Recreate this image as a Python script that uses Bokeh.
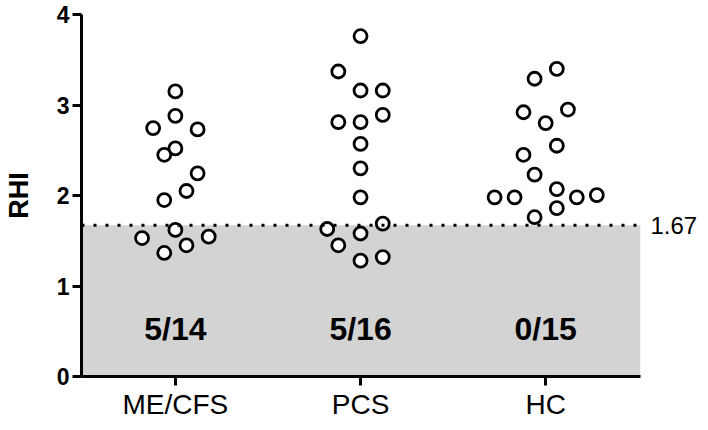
from bokeh.plotting import figure
from bokeh.models import Range1d, FixedTicker, BoxAnnotation, Span, LinearAxis, ColumnDataSource
from bokeh.core.properties import value
from bokeh.embed import file_html
from bokeh.resources import INLINE

# ---- data ----
groups = ["ME/CFS", "PCS", "HC"]
counts = ["5/14", "5/16", "0/15"]
threshold = 1.67

mecfs_vals = [3.15, 2.88, 2.745, 2.73, 2.52, 2.45, 2.245, 2.05, 1.95, 1.62, 1.53, 1.545, 1.45, 1.365]
mecfs_slot = [0, 0, -2, 2, 0, -1, 2, 1, -1, 0, -3, 3, 1, -1]

pcs_vals = [3.76, 3.37, 3.16, 3.16, 2.81, 2.81, 2.89, 2.57, 2.30, 1.98, 1.69, 1.63, 1.58, 1.45, 1.28, 1.32]
pcs_slot = [0, -2, 0, 2, -2, 0, 2, 0, 0, 0, 2, -3, 0, -2, 0, 2]

hc_vals = [3.40, 3.29, 2.92, 2.95, 2.80, 2.55, 2.45, 2.23, 2.07, 1.98, 1.98, 1.98, 2.005, 1.86, 1.76]
hc_slot = [1, -1, -2, 2, 0, 1, -2, -1, 1, -4.6, -2.8, 2.8, 4.6, 1, -1]

y_ticks = [0, 1, 2, 3, 4]

FONT = "Liberation Sans"
SLOT = 0.06  # horizontal spacing of scatter columns, in category units

p = figure(width=700, height=422, output_backend="svg", toolbar_location=None,
           x_range=Range1d(-0.507, 2.512), y_range=Range1d(0, 4),
           min_border_left=80, min_border_right=60, min_border_top=14, min_border_bottom=40)
p.outline_line_color = None
p.grid.visible = False
p.background_fill_color = "white"

shade = BoxAnnotation(bottom=0, top=threshold, fill_color="#d3d3d3", fill_alpha=1.0,
                      line_color=None, level="underlay")
p.add_layout(shade)
p.add_layout(Span(location=threshold, dimension="width", line_color="black",
                  line_width=3, line_dash="3 9"))

xs, ys = [], []
for gi, (vals, slots) in enumerate([(mecfs_vals, mecfs_slot), (pcs_vals, pcs_slot), (hc_vals, hc_slot)]):
    for v, s in zip(vals, slots):
        xs.append(gi + s * SLOT)
        ys.append(v)
src = ColumnDataSource(dict(x=xs, y=ys))
p.scatter("x", "y", source=src, marker="circle", size=13, fill_color="white",
          line_color="black", line_width=2.8)

p.text(x=[0, 1, 2], y=[0.52] * 3, text=counts, text_font=value(FONT), text_font_size="32px",
       text_font_style="bold", text_align="center", text_baseline="middle", text_color="black")

# axes
p.xaxis.ticker = FixedTicker(ticks=[0, 1, 2])
p.xaxis.major_label_overrides = {i: g for i, g in enumerate(groups)}
p.yaxis.ticker = FixedTicker(ticks=y_ticks)
for ax in (p.xaxis[0], p.yaxis[0]):
    ax.axis_line_width = 3
    ax.axis_line_color = "black"
    ax.major_tick_line_width = 3
    ax.major_tick_line_color = "black"
    ax.major_tick_out = 9
    ax.major_tick_in = 0
    ax.minor_tick_line_color = None
    ax.major_label_text_font = FONT
    ax.major_label_text_color = "black"
p.xaxis.major_label_text_font_size = "28px"
p.xaxis.major_label_standoff = 3
p.yaxis.major_label_text_font_size = "23px"
p.yaxis.major_label_text_font_style = "bold"
p.yaxis.major_label_standoff = 3
p.yaxis.axis_label = "RHI"
p.yaxis.axis_label_text_font = FONT
p.yaxis.axis_label_text_font_size = "27px"
p.yaxis.axis_label_text_font_style = "bold"
p.yaxis.axis_label_text_color = "black"
p.yaxis.axis_label_standoff = 20

# threshold value shown at the right edge
right = LinearAxis(ticker=FixedTicker(ticks=[threshold]),
                   major_label_overrides={threshold: "1.67"})
right.axis_line_color = None
right.major_tick_line_color = None
right.minor_tick_line_color = None
right.major_tick_out = 0
right.major_tick_in = 0
right.major_label_standoff = 10
right.major_label_text_font = FONT
right.major_label_text_font_size = "24px"
right.major_label_text_color = "black"
p.add_layout(right, "right")

open("out.html", "w").write(file_html(p, INLINE))
